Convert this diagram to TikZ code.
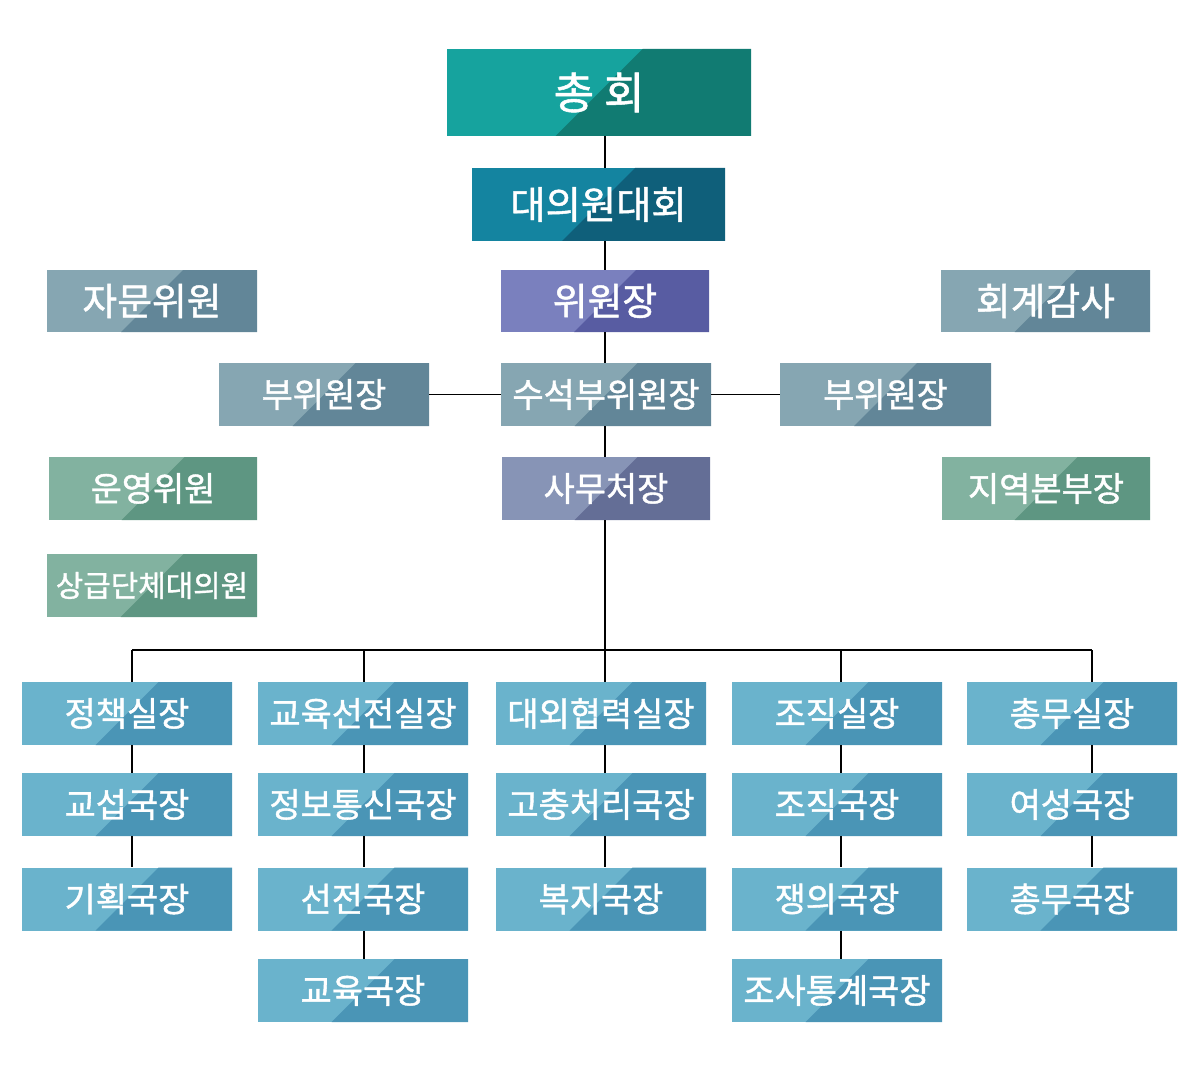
\documentclass[tikz,border=0pt]{standalone}
\usepackage{fontspec}
\setmainfont{Noto Sans CJK KR}[FakeBold=1.2]
\usepackage{tikz}
\usetikzlibrary{calc,positioning}
\definecolor{tealL}{HTML}{16A39E}
\definecolor{tealR}{HTML}{117B72}
\definecolor{seaL}{HTML}{1484A0}
\definecolor{seaR}{HTML}{0F5F7A}
\definecolor{violL}{HTML}{7A80BE}
\definecolor{violR}{HTML}{585CA2}
\definecolor{slateL}{HTML}{86A6B2}
\definecolor{slateR}{HTML}{628698}
\definecolor{duskL}{HTML}{8794B6}
\definecolor{duskR}{HTML}{646E96}
\definecolor{sageL}{HTML}{82B2A0}
\definecolor{sageR}{HTML}{5E9682}
\definecolor{skyL}{HTML}{6AB3CC}
\definecolor{skyR}{HTML}{4A95B6}

\begin{document}
\begin{tikzpicture}[
  %% styles
  split/.style 2 args={rectangle, fill=#1, text=white, inner sep=0pt,
    path picture={
      \fill[#2] let \p1=(path picture bounding box.south west),
                    \p2=(path picture bounding box.north east),
                    \n1={(\y2-\y1)/2}, \n2={(\x1+\x2)/2} in
        (\n2-\n1,\y1) -- (\n2+\n1,\y2) -- (\x2,\y2) -- (\x2,\y1) -- cycle;}},
  unit/.style={split={#1L}{#1R}, minimum width=4.2cm, minimum height=1.26cm,
               font=\fontsize{19.3}{22}\selectfont},
  big/.style={unit=#1, minimum height=1.24cm,
              font=\fontsize{21.5}{24}\selectfont},
  dept/.style={unit=sky},
  link/.style={draw=black, line width=0.6pt},
]
\useasboundingbox (0,0) rectangle (24,-21.6);

%%
%% column x-centres (boxes) and drop lines
%%
\def\Ca{2.54}  \def\Cb{7.26}  \def\Cc{12.02} \def\Cd{16.74} \def\Ce{21.44}
\def\Da{2.64}  \def\Db{7.28}  \def\Dc{12.1}  \def\Dd{16.82} \def\De{21.84}
%% row y-centres
\def\Ra{-14.27} \def\Rb{-16.09} \def\Rc{-17.98} \def\Rd{-19.81}

%% ------ top spine -----------------------------------------------------
\node[split={tealL}{tealR}, minimum width=6.08cm, minimum height=1.74cm,
      font=\fontsize{25}{28}\selectfont] (chong) at (11.98,-1.85) {총 회};
\node[split={seaL}{seaR}, minimum width=5.06cm, minimum height=1.46cm,
      font=\fontsize{21.8}{24}\selectfont] (daeui) at (11.97,-4.09) {대의원대회};
\node[big=viol, minimum width=4.16cm] (chair) at (12.1,-6.02) {위원장};
\node[unit=slate] (svice) at (12.12,-7.89) {수석부위원장};
\node[unit=dusk, minimum width=4.16cm] (sec) at (12.12,-9.77) {사무처장};

%% side boxes
\node[big=slate] (advis) at (3.04,-6.02) {자문위원};
\node[big=slate, minimum width=4.18cm] (audit) at (20.91,-6.02) {회계감사};
\node[unit=slate] (viceL) at (6.48,-7.89) {부위원장};
\node[unit=slate, minimum width=4.22cm] (viceR) at (17.71,-7.89) {부위원장};
\node[unit=sage, minimum width=4.16cm] (oper) at (3.06,-9.77) {운영위원};
\node[unit=sage, minimum width=4.16cm] (region) at (20.92,-9.77) {지역본부장};
\node[unit=sage, font=\fontsize{17}{20}\selectfont] (upper) at (3.04,-11.71) {상급단체대의원};

%% ------ departments ---------------------------------------------------
\node[dept] (polc)  at (\Ca,\Ra) {정책실장};
\node[dept] (nego)  at (\Ca,\Rb) {교섭국장};
\node[dept] (plan)  at (\Ca,\Rc) {기획국장};

\node[dept] (edpr)  at (\Cb,\Ra) {교육선전실장};
\node[dept] (info)  at (\Cb,\Rb) {정보통신국장};
\node[dept] (prop)  at (\Cb,\Rc) {선전국장};
\node[dept] (educ)  at (\Cb,\Rd) {교육국장};

\node[dept] (extr)  at (\Cc,\Ra) {대외협력실장};
\node[dept] (griev) at (\Cc,\Rb) {고충처리국장};
\node[dept] (welf)  at (\Cc,\Rc) {복지국장};

\node[dept] (orgh)  at (\Cd,\Ra) {조직실장};
\node[dept] (orgb)  at (\Cd,\Rb) {조직국장};
\node[dept] (disp)  at (\Cd,\Rc) {쟁의국장};
\node[dept] (stat)  at (\Cd,\Rd) {조사통계국장};

\node[dept] (genh)  at (\Ce,\Ra) {총무실장};
\node[dept] (wom)   at (\Ce,\Rb) {여성국장};
\node[dept] (genb)  at (\Ce,\Rc) {총무국장};

%% ------ connectors ----------------------------------------------------
\coordinate (bar) at (12.1,-13.0);
\draw[link] (chong.south -| bar) -- (daeui.north -| bar);
\draw[link] (daeui.south -| bar) -- (chair.north -| bar);
\draw[link] (chair.south -| bar) -- (svice.north -| bar);
\draw[link] (svice.south -| bar) -- (sec.north -| bar);
\draw[link] (sec.south -| bar) -- (bar);
\draw[link] (viceL) -- (svice);
\draw[link] (svice) -- (viceR);

%% branch bar and drops
\draw[link] (\Da,-13.0) -- (\De,-13.0);
\foreach \d/\n in {\Da/polc,\Db/edpr,\Dc/extr,\Dd/orgh,\De/genh}
  \draw[link] (\d,-13.0) -- (\n.north -| \d,0);

%% chains inside columns
\foreach \d/\a/\b in {\Da/polc/nego, \Da/nego/plan,
                      \Db/edpr/info, \Db/info/prop, \Db/prop/educ,
                      \Dc/extr/griev, \Dc/griev/welf,
                      \Dd/orgh/orgb, \Dd/orgb/disp, \Dd/disp/stat,
                      \De/genh/wom, \De/wom/genb}
  \draw[link] (\a.south -| \d,0) -- (\b.north -| \d,0);

\end{tikzpicture}
\end{document}
